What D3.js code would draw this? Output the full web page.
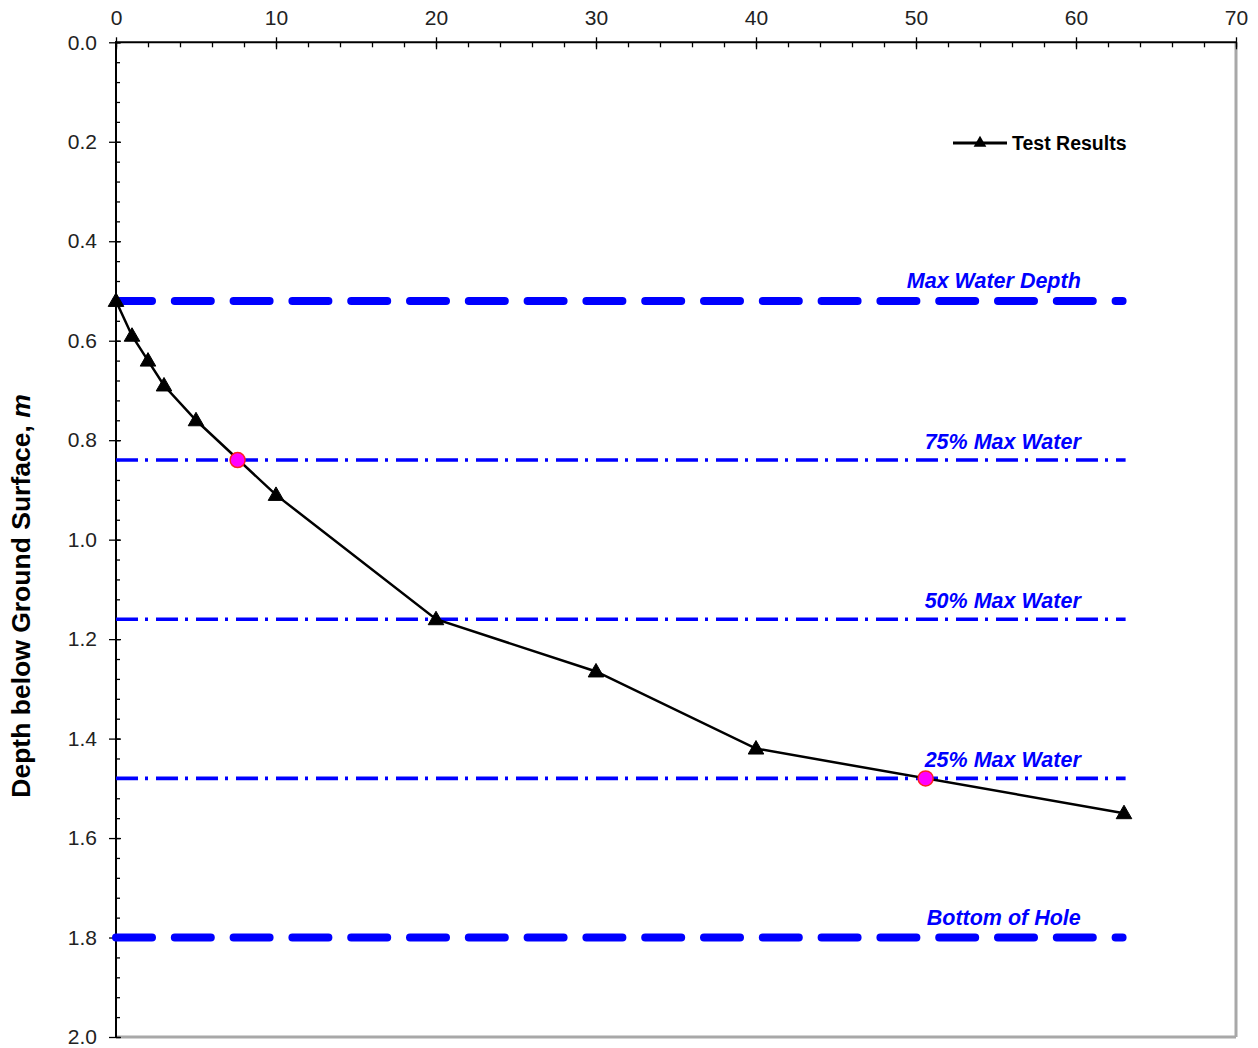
<!DOCTYPE html>
<html>
<head>
<meta charset="utf-8">
<script src="https://cdn.jsdelivr.net/npm/d3@7"></script>
<style>
  html, body { margin: 0; padding: 0; background: #fff; }
  svg { display: block; }
  text { font-family: "Liberation Sans", Arial, sans-serif; }
</style>
</head>
<body>
<svg id="chart" width="1258" height="1048"></svg>
<script>
// Elapsed time (x) vs. depth of water below ground surface (y, metres)
const testTime  = [0, 1, 2, 3, 5, 10, 20, 30, 40, 63];
const testDepth = [0.52, 0.59, 0.64, 0.69, 0.76, 0.91, 1.16, 1.265, 1.42, 1.55];

// Points where the curve crosses the 75% and 25% water levels
const crossTime  = [7.6, 50.6];
const crossDepth = [0.84, 1.48];

// Reference levels
const levelNames  = ["Max Water Depth", "75% Max Water", "50% Max Water", "25% Max Water", "Bottom of Hole"];
const levelDepths = [0.52, 0.84, 1.16, 1.48, 1.80];
const levelHeavy  = [true, false, false, false, true];
const levelEndX   = 63.1;

const xTicks = [0, 10, 20, 30, 40, 50, 60, 70];
const yTicks = [0.0, 0.2, 0.4, 0.6, 0.8, 1.0, 1.2, 1.4, 1.6, 1.8, 2.0];

const svg = d3.select("#chart");

const plotLeft = 116, plotRight = 1236, plotTop = 42.3, plotBottom = 1037;
const x = d3.scaleLinear().domain([0, 70]).range([plotLeft, plotRight]);
const y = d3.scaleLinear().domain([0, 2]).range([plotTop, plotBottom]);

// Plot frame: right and bottom edges in grey
svg.append("line").attr("x1", plotRight).attr("x2", plotRight).attr("y1", plotTop).attr("y2", plotBottom)
  .attr("stroke", "#a8a8a8").attr("stroke-width", 3);
svg.append("line").attr("x1", plotLeft).attr("x2", plotRight).attr("y1", plotBottom).attr("y2", plotBottom)
  .attr("stroke", "#a8a8a8").attr("stroke-width", 3);

// Top x axis
const xMinor = d3.range(0, 70.001, 2);
const gx = svg.append("g").attr("transform", `translate(0,${plotTop})`);
gx.append("g").call(d3.axisBottom(x).tickValues(xMinor).tickSize(5).tickFormat(""));
gx.append("g").call(d3.axisBottom(x).tickValues(xTicks).tickSize(7).tickFormat(""));
gx.append("g").call(d3.axisTop(x).tickValues(xTicks).tickSize(5).tickPadding(12).tickFormat(d3.format("d")));
gx.selectAll(".domain").remove();
gx.append("line").attr("x1", plotLeft - 1).attr("x2", plotRight + 1).attr("stroke", "#000").attr("stroke-width", 2);

// Left y axis
const yMinor = d3.range(0, 2.0001, 0.04);
const gy = svg.append("g").attr("transform", `translate(${plotLeft},0)`);
gy.append("g").call(d3.axisRight(y).tickValues(yMinor).tickSize(4).tickFormat(""));
gy.append("g").call(d3.axisRight(y).tickValues(yTicks).tickSize(5).tickFormat(""));
gy.append("g").call(d3.axisLeft(y).tickValues(yTicks).tickSize(7).tickPadding(12).tickFormat(d3.format(".1f")));
gy.selectAll(".domain").remove();
gy.append("line").attr("y1", plotTop - 1).attr("y2", plotBottom + 1).attr("stroke", "#000").attr("stroke-width", 2);

svg.selectAll(".tick line").attr("stroke", "#000").attr("stroke-width", 1.3);
svg.selectAll(".tick text").attr("font-size", 21).attr("fill", "#222")
  .attr("font-family", "'Liberation Sans', Arial, sans-serif");

// Y axis title
const yTitle = svg.append("text")
  .attr("transform", `translate(30,596) rotate(-90)`)
  .attr("text-anchor", "middle")
  .attr("font-size", 26.5).attr("font-weight", "bold").attr("fill", "#000");
yTitle.append("tspan").text("Depth below Ground Surface, ");
yTitle.append("tspan").attr("font-style", "italic").text("m");

// Reference level lines
const levels = levelNames.map((name, i) => ({ name, depth: levelDepths[i], heavy: levelHeavy[i] }));
const gl = svg.append("g");
gl.selectAll("line").data(levels).join("line")
  .attr("x1", x(0)).attr("x2", d => x(levelEndX) - (d.heavy ? 3 : 0))
  .attr("y1", d => y(d.depth)).attr("y2", d => y(d.depth))
  .attr("stroke", "#0000ff")
  .attr("stroke-width", d => d.heavy ? 8 : 3.6)
  .attr("stroke-linecap", d => d.heavy ? "round" : "butt")
  .attr("stroke-dasharray", d => d.heavy ? "36 22.8" : "22 7 3 8");
gl.selectAll("text").data(levels).join("text")
  .attr("x", x(60.3)).attr("y", d => y(d.depth) - (d.heavy ? 13 : 11))
  .attr("text-anchor", "end")
  .attr("font-size", 21.5).attr("font-weight", "bold").attr("font-style", "italic")
  .attr("fill", "#0000ff")
  .text(d => d.name);

// Test results curve
const results = testTime.map((t, i) => ({ t, d: testDepth[i] }));
svg.append("path").datum(results)
  .attr("fill", "none").attr("stroke", "#000").attr("stroke-width", 2.5)
  .attr("d", d3.line().x(d => x(d.t)).y(d => y(d.d)));
const tri = d3.symbol().type(d3.symbolTriangle).size(105);
svg.append("g").selectAll("path").data(results).join("path")
  .attr("transform", d => `translate(${x(d.t)},${y(d.d) + 1})`)
  .attr("d", tri).attr("fill", "#000").attr("stroke", "#000").attr("stroke-width", 1);

// Crossing points
const crosses = crossTime.map((t, i) => ({ t, d: crossDepth[i] }));
svg.append("g").selectAll("circle").data(crosses).join("circle")
  .attr("cx", d => x(d.t)).attr("cy", d => y(d.d)).attr("r", 7.5)
  .attr("fill", "#ff00ff").attr("stroke", "#ff2020").attr("stroke-width", 1.5);

// Legend
const lg = svg.append("g").attr("transform", "translate(953,143)");
lg.append("line").attr("x1", 0).attr("x2", 54).attr("stroke", "#000").attr("stroke-width", 3);
lg.append("path").attr("transform", "translate(27,0)")
  .attr("d", d3.symbol().type(d3.symbolTriangle).size(70)).attr("fill", "#000");
lg.append("text").attr("x", 59).attr("y", 7)
  .attr("font-size", 19.5).attr("font-weight", "bold").attr("fill", "#000")
  .text("Test Results");
</script>
</body>
</html>
